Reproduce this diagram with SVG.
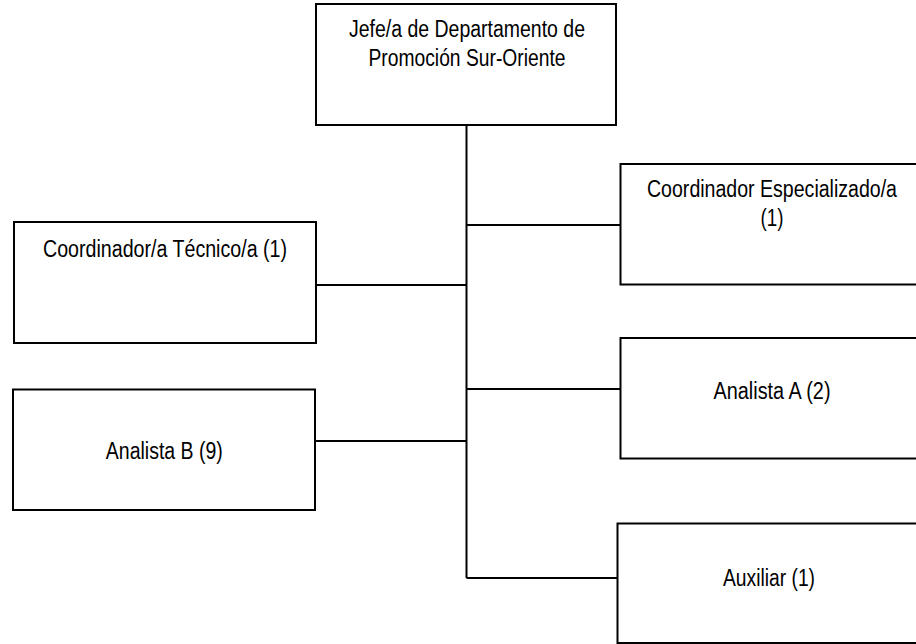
<svg xmlns="http://www.w3.org/2000/svg" width="916" height="644" viewBox="0 0 916 644">
<style>
.box{fill:#fff;stroke:#000;stroke-width:2}
.ln{stroke:#000;stroke-width:2;fill:none}
text{font-family:"Liberation Sans",Arial,sans-serif;font-size:23px;fill:#000;text-anchor:middle}
</style>
<rect width="916" height="644" fill="#fff"/>
<g id="connectors">
<line class="ln" x1="466.5" y1="125" x2="466.5" y2="578"/>
<line class="ln" x1="316" y1="285" x2="466.5" y2="285"/>
<line class="ln" x1="466.5" y1="225" x2="620" y2="225"/>
<line class="ln" x1="466.5" y1="389" x2="620" y2="389"/>
<line class="ln" x1="315" y1="441" x2="466.5" y2="441"/>
<line class="ln" x1="466.5" y1="578" x2="617" y2="578"/>
</g>
<g id="jefe">
<rect class="box" x="316" y="4" width="300" height="121"/>
<text x="467" y="37" textLength="236" lengthAdjust="spacingAndGlyphs">Jefe/a de Departamento de</text>
<text x="467" y="66" textLength="197" lengthAdjust="spacingAndGlyphs">Promoción Sur-Oriente</text>
</g>
<g id="coord-tecnico">
<rect class="box" x="14" y="222" width="302" height="121"/>
<text x="165" y="257" textLength="244" lengthAdjust="spacingAndGlyphs">Coordinador/a Técnico/a (1)</text>
</g>
<g id="analista-b">
<rect class="box" x="13" y="389.5" width="302" height="120.5"/>
<text x="164.3" y="459" textLength="117" lengthAdjust="spacingAndGlyphs">Analista B (9)</text>
</g>
<g id="coord-especializado">
<rect class="box" x="620.5" y="164" width="297" height="120.5"/>
<text x="772" y="196.5" textLength="250" lengthAdjust="spacingAndGlyphs">Coordinador Especializado/a</text>
<text x="772" y="226" textLength="23" lengthAdjust="spacingAndGlyphs">(1)</text>
</g>
<g id="analista-a">
<rect class="box" x="620.5" y="338" width="297" height="120.5"/>
<text x="772" y="398.5" textLength="117" lengthAdjust="spacingAndGlyphs">Analista A (2)</text>
</g>
<g id="auxiliar">
<rect class="box" x="617.5" y="523.5" width="300" height="119.5"/>
<text x="769" y="586" textLength="92" lengthAdjust="spacingAndGlyphs">Auxiliar (1)</text>
</g>
</svg>
